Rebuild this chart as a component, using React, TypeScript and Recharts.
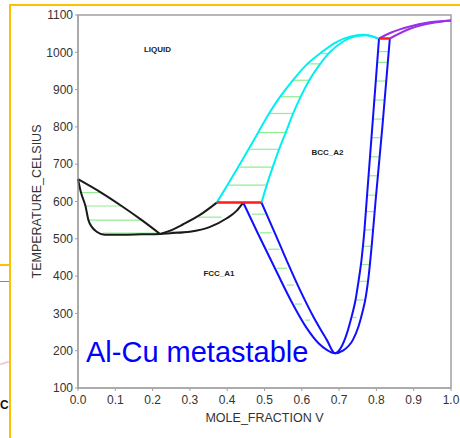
import { LineChart, Line, XAxis, YAxis, ReferenceArea, ReferenceDot } from "recharts";

// phase boundaries, [mole fraction, temperature °C]
const fccSolidus = [
  [0, 660], [0.008, 624], [0.02, 588], [0.028, 550], [0.037, 532], [0.05, 519], [0.072, 511],
  [0.12, 511], [0.17, 512], [0.22, 513], [0.247, 515], [0.3, 519], [0.354, 532], [0.399, 555],
  [0.425, 575], [0.443, 597],
];
const alLiquidus = [[0, 660], [0.062, 624], [0.117, 588], [0.171, 550], [0.22, 513]];
const midLiquidus = [[0.22, 513], [0.247, 522], [0.282, 539], [0.327, 564], [0.372, 597]];
const bccLiquidus = [
  [0.372, 597], [0.4, 643], [0.428, 690], [0.456, 738], [0.483, 785], [0.511, 834], [0.542, 881],
  [0.576, 925], [0.613, 967], [0.649, 997], [0.694, 1028], [0.729, 1042], [0.765, 1047], [0.805, 1037],
];
const bccSolidus = [
  [0.492, 597], [0.506, 644], [0.522, 692], [0.539, 740], [0.557, 785], [0.576, 834], [0.597, 881],
  [0.62, 925], [0.648, 967], [0.672, 997], [0.711, 1029], [0.747, 1044], [0.774, 1046], [0.805, 1037],
];
const fccBoundary = [
  [0.443, 597], [0.482, 515], [0.526, 425], [0.57, 336], [0.611, 264], [0.645, 220], [0.667, 202],
  [0.689, 193], [0.71, 200], [0.737, 229], [0.752, 265], [0.764, 309], [0.77, 336], [0.779, 398],
  [0.788, 488], [0.798, 604], [0.816, 800], [0.836, 1037],
];
const bccBoundary = [
  [0.492, 597], [0.524, 524], [0.559, 443], [0.595, 363], [0.631, 291], [0.667, 229], [0.689, 193],
  [0.703, 205], [0.717, 235], [0.733, 289], [0.744, 336], [0.752, 386], [0.76, 443], [0.768, 524],
  [0.774, 604], [0.789, 800], [0.807, 1037],
];
const cuLiquidus = [[0.807, 1037], [0.84, 1053], [0.89, 1069], [0.935, 1079], [1.0, 1085]];
const cuSolidus = [[0.836, 1037], [0.89, 1063], [0.953, 1079], [1.0, 1085]];
const invariants = [[0.372, 0.492, 597], [0.807, 0.836, 1037]];

// tie lines, [temperature, x left, x right]
const alTies = [[624, 0.008, 0.062], [588, 0.02, 0.117], [550, 0.028, 0.171], [515, 0.067, 0.214]];
const midTies = [[519, 0.232, 0.29], [558, 0.323, 0.385]];
const bccLiqTies = [
  [644, 0.403, 0.506], [692, 0.434, 0.524], [740, 0.457, 0.539], [785, 0.481, 0.561],
  [836, 0.51, 0.576], [881, 0.542, 0.597], [925, 0.576, 0.62], [969, 0.613, 0.649], [997, 0.649, 0.671],
];
const leftBlueTies = [
  [566, 0.466, 0.501], [516, 0.488, 0.519], [472, 0.51, 0.54], [421, 0.533, 0.56],
  [376, 0.56, 0.579], [325, 0.582, 0.6], [282, 0.609, 0.622],
];
const rightBlueTies = [
  [289, 0.736, 0.747], [336, 0.746, 0.768], [386, 0.753, 0.777], [431, 0.759, 0.782],
  [480, 0.766, 0.787], [524, 0.769, 0.791], [573, 0.773, 0.795], [617, 0.775, 0.799],
  [669, 0.779, 0.804], [720, 0.782, 0.809], [771, 0.786, 0.814], [821, 0.79, 0.818],
  [872, 0.795, 0.822], [923, 0.799, 0.827], [973, 0.802, 0.831], [1002, 0.804, 0.833],
];

const phaseLabels = [
  { text: "LIQUID", x: 0.213, t: 1008 },
  { text: "BCC_A2", x: 0.669, t: 731 },
  { text: "FCC_A1", x: 0.378, t: 408 },
];

const xTicks = [0, 0.1, 0.2, 0.3, 0.4, 0.5, 0.6, 0.7, 0.8, 0.9, 1.0];
const yTicks = [100, 200, 300, 400, 500, 600, 700, 800, 900, 1000, 1100];

const pts = (rows: number[][]) => rows.map(([x, t]) => ({ x, t }));

const curves = [
  { id: "fccSol", rows: fccSolidus, color: "#1a1a1a" },
  { id: "alLiq", rows: alLiquidus, color: "#1a1a1a" },
  { id: "midLiq", rows: midLiquidus, color: "#1a1a1a" },
  { id: "bccLiq", rows: bccLiquidus, color: "#00f0f0" },
  { id: "bccSol", rows: bccSolidus, color: "#00f0f0" },
  { id: "fccB", rows: fccBoundary, color: "#1010ff" },
  { id: "bccB", rows: bccBoundary, color: "#1010ff" },
  { id: "cuLiq", rows: cuLiquidus, color: "#9a30e8" },
  { id: "cuSol", rows: cuSolidus, color: "#9a30e8" },
];

const ties = [...alTies, ...midTies, ...bccLiqTies, ...leftBlueTies, ...rightBlueTies];

const font = "'Liberation Sans', Arial, sans-serif";
const tickStyle = { fontSize: 12, fill: "#333", fontFamily: font };

export default function App() {
  return (
    <div style={{ position: "absolute", left: 0, top: 0, width: 460, height: 438, background: "#fff", overflow: "hidden" }}>
      <LineChart width={460} height={438} margin={{ top: 15, right: 9, bottom: 0, left: 30 }}>
        <XAxis
          type="number"
          dataKey="x"
          domain={[0, 1]}
          ticks={xTicks}
          tickFormatter={(v: number) => v.toFixed(1)}
          height={50}
          tick={tickStyle}
          tickSize={3}
          tickMargin={4}
          stroke="#a0a0a0"
          label={{ value: "MOLE_FRACTION V", position: "insideBottom", offset: 16, fontSize: 12.5, fill: "#333", fontFamily: font }}
        />
        <YAxis
          type="number"
          domain={[100, 1100]}
          ticks={yTicks}
          width={48}
          tick={tickStyle}
          tickSize={3}
          tickMargin={2}
          stroke="#a0a0a0"
          label={{ value: "TEMPERATURE_CELSIUS", angle: -90, position: "insideLeft", offset: 7, fontSize: 12.5, fill: "#333", fontFamily: font, style: { textAnchor: "middle" } }}
        />
        <ReferenceArea x1={0} x2={1} y1={100} y2={1100} fill="none" stroke="#a0a0a0" strokeWidth={1.5} />
        {ties.map(([t, x1, x2], i) => (
          <Line
            key={"tie" + i}
            data={pts([[x1, t], [x2, t]])}
            dataKey="t"
            type="linear"
            stroke="#90ee90"
            strokeWidth={1.2}
            dot={false}
            activeDot={false}
            isAnimationActive={false}
          />
        ))}
        {curves.map((c) => (
          <Line
            key={c.id}
            data={pts(c.rows)}
            dataKey="t"
            type="monotone"
            stroke={c.color}
            strokeWidth={2}
            dot={false}
            activeDot={false}
            isAnimationActive={false}
          />
        ))}
        {invariants.map(([x1, x2, t], i) => (
          <Line
            key={"inv" + i}
            data={pts([[x1, t], [x2, t]])}
            dataKey="t"
            type="linear"
            stroke="#ff1a1a"
            strokeWidth={2.5}
            dot={false}
            activeDot={false}
            isAnimationActive={false}
          />
        ))}
        {phaseLabels.map((p) => (
          <ReferenceDot
            key={p.text}
            x={p.x}
            y={p.t}
            r={0}
            fill="none"
            stroke="none"
            label={{ value: p.text, position: "center", fontSize: 8, fontWeight: 700, fill: "#222", fontFamily: font }}
          />
        ))}
      </LineChart>
      <div style={{ position: "absolute", left: 86, top: 338, fontFamily: font, fontSize: 29, lineHeight: "29px", color: "#0000ff", whiteSpace: "nowrap" }}>
        Al-Cu metastable
      </div>
      {/* slide clutter round the screenshot */}
      <div style={{ position: "absolute", left: 9, top: 4, width: 451, height: 2, background: "#ffc000" }} />
      <div style={{ position: "absolute", left: 9, top: 4, width: 2, height: 434, background: "#ffc000" }} />
      <div style={{ position: "absolute", left: 0, top: 264, width: 9, height: 1.5, background: "#ffc000" }} />
      <div style={{ position: "absolute", left: 0, top: 281, width: 9, height: 1, background: "#888" }} />
      <div style={{ position: "absolute", left: 0, top: 362, width: 9, height: 2, background: "#f6c6d4", transform: "rotate(-18deg)" }} />
      <div style={{ position: "absolute", left: 0, top: 395, fontFamily: font, fontWeight: 700, fontSize: 12, color: "#111", lineHeight: "20px" }}>
        C
      </div>
    </div>
  );
}
